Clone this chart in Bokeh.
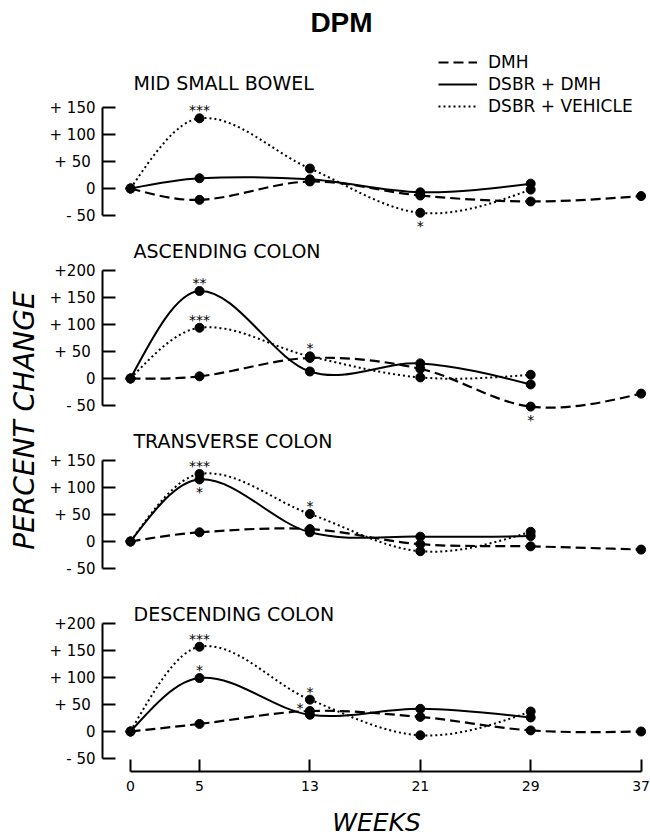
import math
from bokeh.plotting import figure
from bokeh.models import Range1d, FixedTicker, Label, Legend, LegendItem
from bokeh.layouts import row, column
from bokeh.embed import file_html
from bokeh.resources import INLINE
from bokeh.core.properties import value

# ---------------- data ----------------
weeks = [0, 5, 13, 21, 29, 37]
series_names = ["DMH", "DSBR + DMH", "DSBR + VEHICLE"]
panel_titles = ["MID SMALL BOWEL", "ASCENDING COLON", "TRANSVERSE COLON", "DESCENDING COLON"]

mid_dmh = [0, -21, 13, -13, -24, -14]
mid_dsbr_dmh = [0, 19, 17, -7, 9]
mid_dsbr_veh = [0, 130, 37, -45, -2]

asc_dmh = [0, 4, 38, 18, -52, -28]
asc_dsbr_dmh = [0, 162, 13, 28, -11]
asc_dsbr_veh = [0, 94, 41, 2, 7]

trans_dmh = [0, 17, 23, -5, -9, -15]
trans_dsbr_dmh = [0, 115, 17, 9, 10]
trans_dsbr_veh = [0, 125, 51, -18, 18]

desc_dmh = [0, 14, 38, 27, 2, 0]
desc_dsbr_dmh = [0, 99, 31, 42, 26]
desc_dsbr_veh = [0, 157, 59, -7, 37]

panel_series = [
    [mid_dmh, mid_dsbr_dmh, mid_dsbr_veh],
    [asc_dmh, asc_dsbr_dmh, asc_dsbr_veh],
    [trans_dmh, trans_dsbr_dmh, trans_dsbr_veh],
    [desc_dmh, desc_dsbr_dmh, desc_dsbr_veh],
]

y_ticks_150 = [-50, 0, 50, 100, 150]
y_labels_150 = ["- 50", "0", "+  50", "+ 100", "+ 150"]
y_ticks_200 = [-50, 0, 50, 100, 150, 200]
y_labels_200 = ["- 50", "0", "+  50", "+ 100", "+ 150", "+200"]
panel_ticks = [(y_ticks_150, y_labels_150), (y_ticks_200, y_labels_200),
               (y_ticks_150, y_labels_150), (y_ticks_200, y_labels_200)]
x_tick_labels = ["0", "5", "13", "21", "29", "37"]

# significance marks
sig_panel = [0, 0, 1, 1, 1, 1, 2, 2, 2, 3, 3, 3, 3]
sig_week = [5, 21, 5, 5, 13, 29, 5, 5, 13, 5, 5, 13, 13]
sig_series = [2, 2, 1, 2, 2, 0, 2, 1, 2, 2, 1, 2, 0]
sig_text = ["***", "*", "**", "***", "*", "*", "***", "*", "*", "***", "*", "*", "*"]
sig_place = ["above", "below", "above", "above", "above", "below",
             "above", "below", "above", "above", "above", "above", "left"]

# ---------------- layout constants (page pixels) ----------------
FONT = "DejaVu Sans"
PX_PER_WEEK = 13.8
PX_PER_UNIT = 0.54
PAGE_W, PAGE_H = 650, 839
LABEL_W = 44
FIG_W = PAGE_W - LABEL_W
FRAME_LEFT = 58
page_frame_left = LABEL_W + FRAME_LEFT
week0_px = 130
x_start = -(week0_px - page_frame_left) / PX_PER_WEEK
x_end = x_start + (FIG_W - FRAME_LEFT) / PX_PER_WEEK
x_range = Range1d(x_start, x_end)

panel_top = [0, 238, 428, 582]
panel_bottom = [238, 428, 582, 771]
zero_y = [188, 378, 541, 731]
title_y = [82, 250, 440, 613]
BOTTOM_BORDER = PAGE_H - panel_bottom[-1]

styles = [
    dict(line_dash="10 5", line_width=2.2),
    dict(line_dash="solid", line_width=2),
    dict(line_dash="2 3", line_width=2),
]
offsets = {"above": (0, -8), "below": (0, 13), "left": (-10, -3)}


def bezier_parts(xs, ys):
    n = len(xs)
    s = [(ys[i + 1] - ys[i]) / (xs[i + 1] - xs[i]) for i in range(n - 1)]
    m = [0.0] * n
    for i in range(1, n - 1):
        m[i] = (ys[i + 1] - ys[i - 1]) / (xs[i + 1] - xs[i - 1])
    m[0] = (3 * s[0] - m[1]) / 2 if n > 2 else s[0]
    m[-1] = (3 * s[-1] - m[-2]) / 2 if n > 2 else s[-1]
    d = dict(x0=[], y0=[], x1=[], y1=[], cx0=[], cy0=[], cx1=[], cy1=[])
    for i in range(n - 1):
        dx = xs[i + 1] - xs[i]
        d["x0"].append(xs[i]); d["y0"].append(ys[i])
        d["x1"].append(xs[i + 1]); d["y1"].append(ys[i + 1])
        d["cx0"].append(xs[i] + dx / 3); d["cy0"].append(ys[i] + m[i] * dx / 3)
        d["cx1"].append(xs[i + 1] - dx / 3); d["cy1"].append(ys[i + 1] - m[i + 1] * dx / 3)
    return d


panels = []
for k in range(4):
    top, bot, z = panel_top[k], panel_bottom[k], zero_y[k]
    last = k == 3
    h = bot - top + (BOTTOM_BORDER if last else 0)
    yr = Range1d((z - bot) / PX_PER_UNIT, (z - top) / PX_PER_UNIT)
    p = figure(width=FIG_W, height=h, x_range=x_range, y_range=yr,
               output_backend="svg", toolbar_location=None,
               x_axis_location="below" if last else None,
               min_border_left=FRAME_LEFT, min_border_right=0, min_border_top=0,
               min_border_bottom=BOTTOM_BORDER if last else 0)
    p.outline_line_color = None
    p.xgrid.visible = False
    p.ygrid.visible = False
    p.background_fill_color = "white"
    p.border_fill_color = "white"

    ticks, labels = panel_ticks[k]
    ya = p.yaxis[0]
    ya.ticker = FixedTicker(ticks=ticks)
    ya.major_label_overrides = {t: l for t, l in zip(ticks, labels)}
    ya.bounds = (ticks[0], ticks[-1])
    ya.axis_line_width = 2
    ya.axis_line_color = "black"
    ya.major_tick_line_width = 2
    ya.major_tick_line_color = "black"
    ya.major_tick_in = 13
    ya.major_tick_out = 0
    ya.minor_tick_line_color = None
    ya.major_label_standoff = 7
    ya.major_label_text_font = FONT
    ya.major_label_text_font_size = "15px"
    ya.major_label_text_color = "black"

    if last:
        xa = p.xaxis[0]
        xa.ticker = FixedTicker(ticks=weeks)
        xa.major_label_overrides = {w: l for w, l in zip(weeks, x_tick_labels)}
        xa.bounds = (weeks[0], weeks[-1])
        xa.axis_line_width = 2
        xa.axis_line_color = "black"
        xa.major_tick_line_width = 2
        xa.major_tick_line_color = "black"
        xa.major_tick_in = 12
        xa.major_tick_out = 0
        xa.minor_tick_line_color = None
        xa.major_label_standoff = 9
        xa.major_label_text_font = FONT
        xa.major_label_text_font_size = "14px"
        xa.major_label_text_color = "black"
        xa.axis_label = "WEEKS"
        xa.axis_label_text_font = FONT
        xa.axis_label_text_font_style = "italic"
        xa.axis_label_text_font_size = "25px"
        xa.axis_label_text_color = "black"
        xa.axis_label_standoff = 14

    renderers = []
    for si, vals in enumerate(panel_series[k]):
        xs = weeks[:len(vals)]
        r = p.bezier(**bezier_parts(xs, vals), line_color="black", **styles[si])
        renderers.append(r)
        p.scatter(xs, vals, size=9, color="black")

    # significance marks
    for i in range(len(sig_text)):
        if sig_panel[i] != k:
            continue
        vals = panel_series[k][sig_series[i]]
        yv = vals[weeks.index(sig_week[i])]
        dx, dy = offsets[sig_place[i]]
        p.text(x=[sig_week[i]], y=[yv], text=[sig_text[i]], text_align="center",
               text_baseline="middle", x_offset=dx, y_offset=dy,
               text_font=value(FONT), text_font_size="14px", text_color="black")

    # panel title
    p.add_layout(Label(x=(133 - week0_px) / PX_PER_WEEK, y=(z - title_y[k]) / PX_PER_UNIT,
                       text=panel_titles[k], text_font=FONT, text_font_size="19px",
                       text_align="left", text_baseline="middle", text_color="black"))

    if k == 0:
        p.add_layout(Label(x=(341 - week0_px) / PX_PER_WEEK, y=(z - 22) / PX_PER_UNIT,
                           text="DPM", text_font="Liberation Sans", text_font_style="bold",
                           text_font_size="28px", text_align="center",
                           text_baseline="middle", text_color="black"))
        legend = Legend(items=[LegendItem(label=n, renderers=[r])
                               for n, r in zip(series_names, renderers)],
                        location=(438 - page_frame_left, bot - 117),
                        padding=0, margin=0, spacing=0,
                        glyph_width=39, glyph_height=22, label_height=22,
                        label_standoff=11, label_text_font=FONT,
                        label_text_font_size="17px", label_text_color="black",
                        background_fill_alpha=0, border_line_alpha=0)
        p.add_layout(legend)
    panels.append(p)

# y-axis title column
label_fig = figure(width=LABEL_W, height=PAGE_H, x_range=Range1d(0, LABEL_W),
                   y_range=Range1d(0, PAGE_H), output_backend="svg", toolbar_location=None,
                   x_axis_location=None, y_axis_location=None,
                   min_border_left=0, min_border_right=0, min_border_top=0, min_border_bottom=0)
label_fig.outline_line_color = None
label_fig.xgrid.visible = False
label_fig.ygrid.visible = False
label_fig.add_layout(Label(x=24, y=PAGE_H - 420, text="PERCENT CHANGE",
                           angle=math.pi / 2, text_font=FONT, text_font_style="italic",
                           text_font_size="28px", text_align="center",
                           text_baseline="middle", text_color="black"))

layout = row(label_fig, column(*panels, spacing=0), spacing=0)
open("out.html", "w").write(file_html(layout, INLINE, title="DPM"))
